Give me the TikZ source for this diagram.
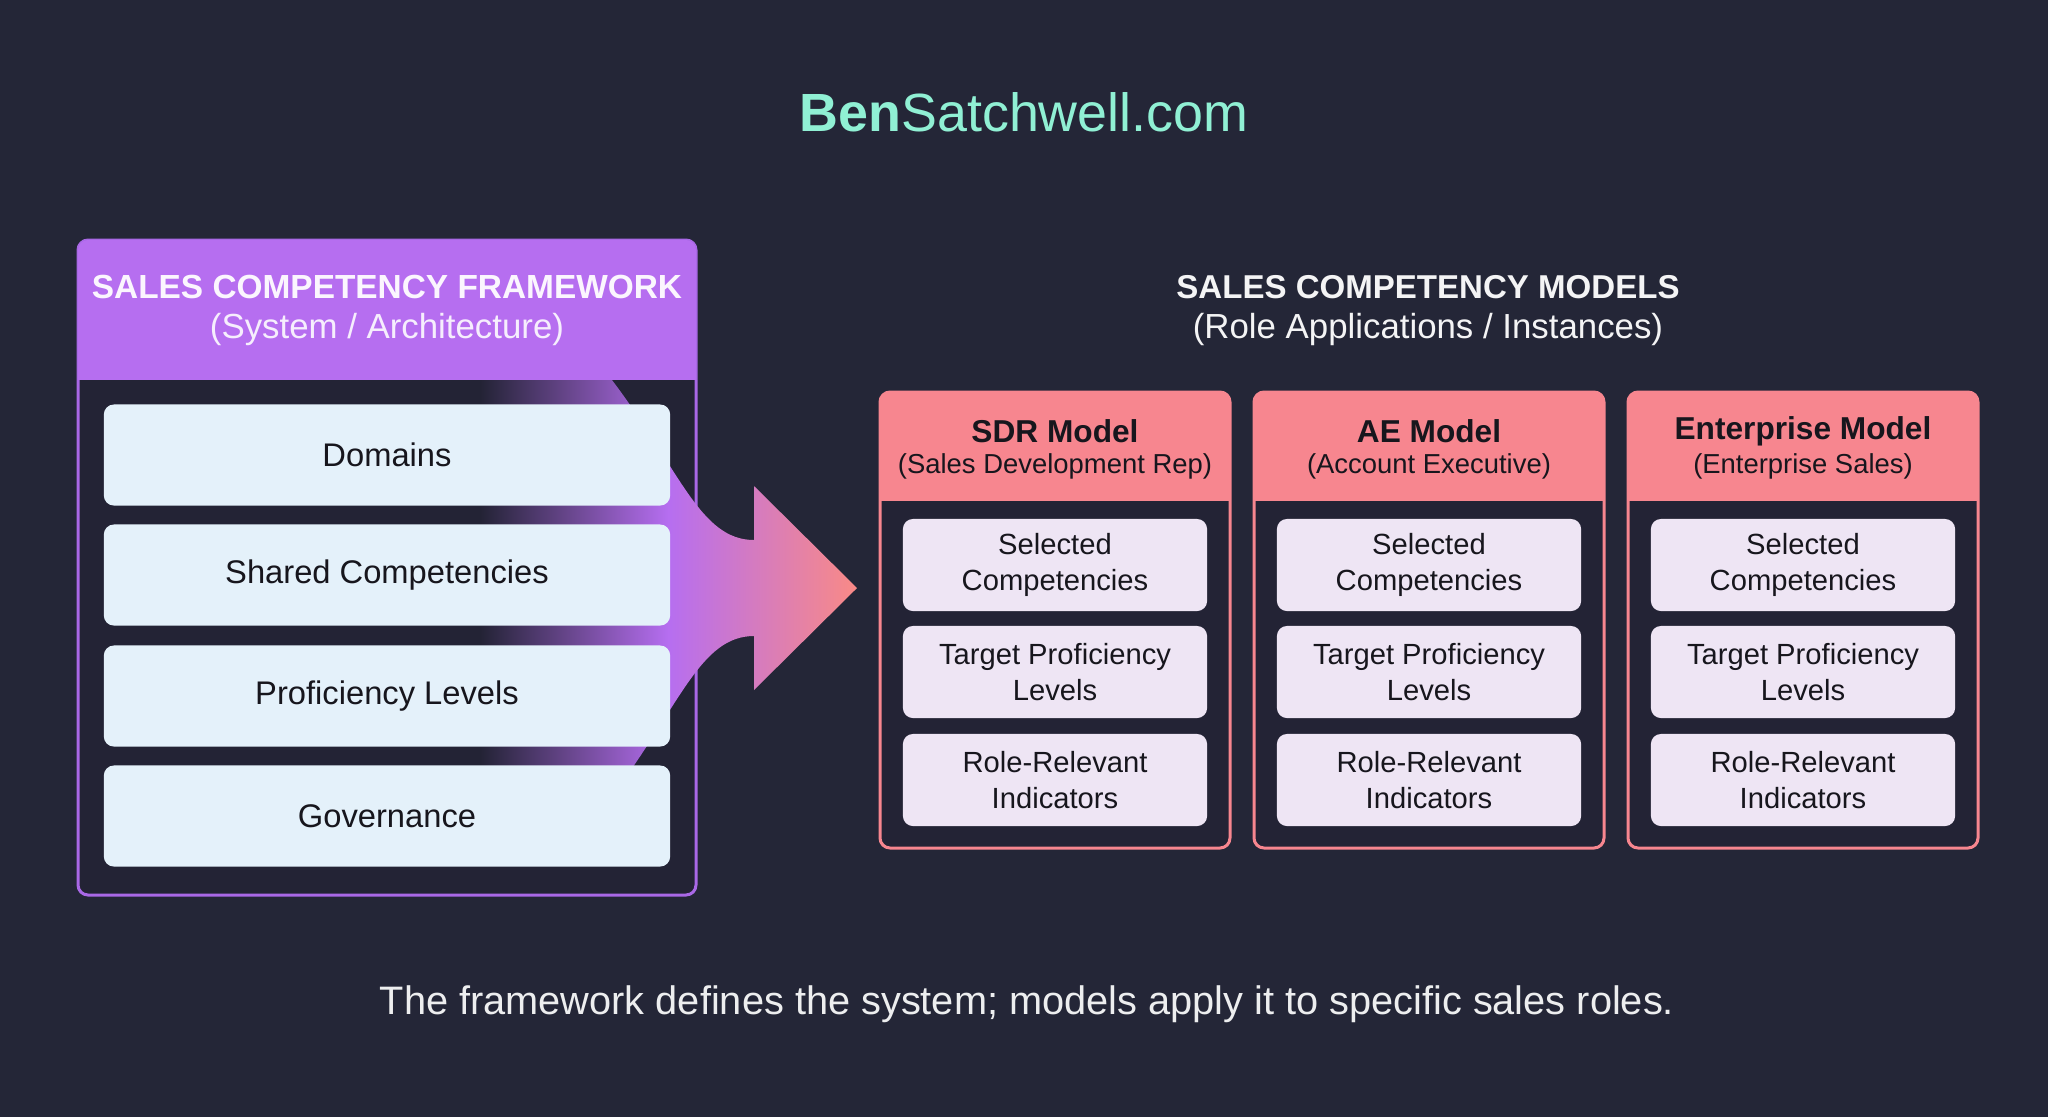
\documentclass[tikz,border=0pt]{standalone}
\usepackage{fontspec}
\setmainfont{Liberation Sans}
\usepackage{xcolor}
\usetikzlibrary{positioning,calc}

\definecolor{bgnavy}{HTML}{242637}
\definecolor{bodydark}{HTML}{232335}
\definecolor{fwpurple}{HTML}{B66EF0}
\definecolor{fwborder}{HTML}{A968E6}
\definecolor{fwitemfill}{HTML}{E4F1FA}
\definecolor{mdsalmon}{HTML}{F7868F}
\definecolor{mditemfill}{HTML}{EEE5F4}
\definecolor{inkdark}{HTML}{17161D}
\definecolor{mint}{HTML}{90F0D4}
\definecolor{arrowsalmon}{HTML}{F98A86}

\begin{document}
\begin{tikzpicture}[x=0.01cm, y=-0.01cm,
		fwitem/.style={fill=fwitemfill, rounded corners=0.1cm, minimum width=5.66cm, minimum height=1.01cm, inner sep=0pt, text=inkdark, font=\fontsize{9.3}{11}\selectfont},
		mditem/.style={fill=mditemfill, rounded corners=0.1cm, minimum width=3.04cm, minimum height=0.92cm, inner sep=0pt, align=center, text=inkdark, font=\fontsize{8.3}{10.4}\selectfont},
		headtitle/.style={text=#1, font=\bfseries\fontsize{9.5}{11}\selectfont},
		headsub/.style={text=#1, font=\fontsize{9.9}{11}\selectfont}]
		\useasboundingbox (0,0) rectangle (2048,1117);
		\fill[bgnavy] (0,0) rectangle (2048,1117);

		\node[text=mint, font=\fontsize{15.3}{18}\selectfont] (site) at (1024,112) {\textbf{Ben}Satchwell.com};

		% framework
		\draw[fwborder, line width=0.03cm, fill=bodydark, rounded corners=0.1cm] (78,240) rectangle (696,895);
		\shade[left color=bodydark, right color=arrowsalmon, middle color=fwpurple]
			(480,380) -- (612,380) .. controls (680,470) and (700,540) .. (754,540) -- (754,486) -- (857,588) -- (754,690) -- (754,636) .. controls (700,636) and (680,706) .. (612,796) -- (480,796) -- cycle;
		\coordinate (tip) at (857,588);
		\begin{scope}
			\clip (70,232) rectangle (704,379);
			\fill[fwpurple, rounded corners=0.1cm] (78,240) rectangle (696,420);
		\end{scope}
		\node[headtitle={white!94!fwpurple}] (fw-title) at (387,287) {SALES COMPETENCY FRAMEWORK};
		\node[headsub={white!88!fwpurple}] (fw-sub) at (387,329) {(System / Architecture)};

		\node[fwitem] (domains) at (387,455) {Domains};
		\node[fwitem] (shared) at (387,575) {Shared Competencies};
		\node[fwitem] (levels) at (387,696) {Proficiency Levels};
		\node[fwitem] (governance) at (387,816) {Governance};

		% models
		\node[headtitle={white!95!bgnavy}, font=\bfseries\fontsize{9.4}{11}\selectfont] (md-title) at (1428,287) {SALES COMPETENCY MODELS};
		\node[headsub={white!95!bgnavy}] (md-sub) at (1428,329) {(Role Applications / Instances)};

		\foreach \mx/\mname/\mtitle/\msub in {1055/sdr/SDR Model/(Sales Development Rep), 1429/ae/AE Model/(Account Executive), 1803/ent/Enterprise Model/(Enterprise Sales)} {
			\draw[mdsalmon, line width=0.03cm, fill=bodydark, rounded corners=0.1cm] ({\mx-175},392) rectangle ({\mx+175},848);
			\begin{scope}
				\clip ({\mx-183},384) rectangle ({\mx+183},500);
				\fill[mdsalmon, rounded corners=0.1cm] ({\mx-175},392) rectangle ({\mx+175},540);
			\end{scope}
			\node[text=inkdark, font=\bfseries\fontsize{9}{11}\selectfont] (\mname-title) at (\mx,431) {\mtitle};
			\node[text=inkdark, font=\fontsize{7.8}{10}\selectfont] (\mname-sub) at (\mx,466) {\msub};
			\node[mditem] (\mname-sel) at (\mx,565) {Selected\\Competencies};
			\node[mditem] (\mname-tpl) at (\mx,672) {Target Proficiency\\Levels};
			\node[mditem] (\mname-rri) at (\mx,780) {Role-Relevant\\Indicators};
		}

		\node[text=white!92!bgnavy, font=\fontsize{11.3}{13}\selectfont] (caption) at (1027,1004) {The framework defines the system; models apply it to specific sales roles.};
	\end{tikzpicture}
\end{document}
